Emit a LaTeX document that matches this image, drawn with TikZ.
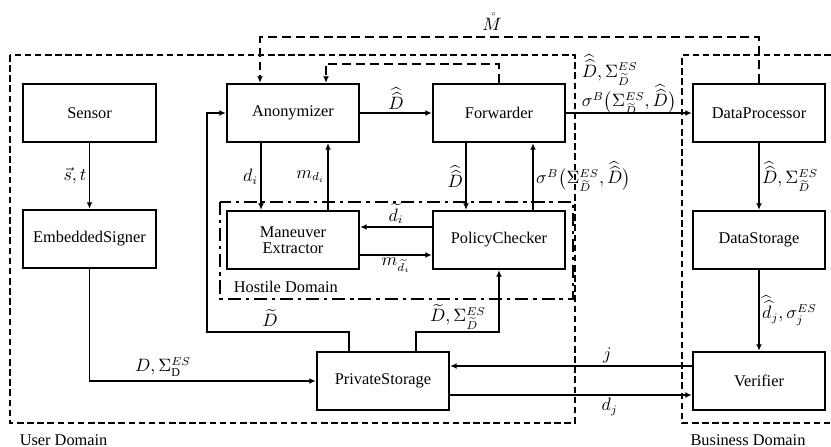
\documentclass[tikz,border=0pt]{standalone}
\usepackage{amsmath}
\usepackage{fontspec}
\setmainfont{Liberation Serif}
\usetikzlibrary{arrows.meta, positioning, calc}

\newcommand{\hhD}{\widehat{\widehat{D}}}
\newcommand{\SigD}{\Sigma^{ES}_{\widetilde{D}}}

\begin{document}
\begin{tikzpicture}[
    x=0.0215cm, y=-0.0215cm,
    block/.style={draw, line width=1.1pt, minimum width=2.85cm,
                  minimum height=1.26cm, align=center, font=\normalsize},
    lbl/.style={font=\fontsize{10.5}{12}\selectfont, inner sep=1.5pt},
    flow/.style={->, line width=0.9pt},
    userdom/.style={line width=1pt, dash pattern=on 4pt off 2.2pt},
    mline/.style={line width=1pt, dash pattern=on 5.5pt off 3pt},
    hostdom/.style={line width=1pt, dash pattern=on 8pt off 3pt on 2pt off 3pt},
    >={Latex[length=4pt,width=3.6pt]}
  ]
  \useasboundingbox (0,0) rectangle (831,447);

  % domains
  \draw[userdom] (10,55) rectangle (575,423);
  \draw[userdom] (831,55) -| (682,423) -- (831,423);
  \draw[hostdom] (220,202) rectangle (573,299);
  \node[anchor=west] (userlbl) at (14,440) {User Domain};
  \node (buslbl) at (748,440) {Business Domain};
  \node[anchor=west] (hostlbl) at (228,287) {Hostile Domain};

  % blocks
  \node[block] (sensor) at (89.5,113) {Sensor};
  \node[block] (anon)   at (293,113)  {Anonymizer};
  \node[block] (fwd)    at (499,113)  {Forwarder};
  \node[block] (dproc)  at (759,113)  {DataProcessor};
  \node[block] (signer) at (89.5,239) {EmbeddedSigner};
  \node[block] (maneu)  at (293,240)  {Maneuver\\[-2pt]Extractor};
  \node[block] (policy) at (499,240)  {PolicyChecker};
  \node[block] (dstore) at (759,240)  {DataStorage};
  \node[block] (priv)   at (383,381)  {PrivateStorage};
  \node[block] (verif)  at (759,381)  {Verifier};

  % dashed feedback
  \draw[mline, ->] (dproc.north) |- ($(anon.north)+(-33,-46)$)
    -- ($(anon.north)+(-33,0)$);
  \node[lbl] (mlbl) at (492,22) {$\mathring{M}$};
  \draw[mline, ->] (fwd.north) |- ($(anon.north)+(33,-19)$)
    -- ($(anon.north)+(33,0)$);

  % data flow
  \draw[flow] (sensor) -- (signer) node[lbl, midway, left] (st) {$\vec{s},t$};
  \draw[flow] (anon) -- (fwd) node[lbl, midway, above] (ad) {$\hhD$};
  \draw[flow] (fwd) -- (dproc);
  \node[lbl, anchor=base] (fsig) at (629,107)
    {$\sigma^{B}\bigl(\SigD,\hhD\bigr)$};
  \node[lbl, anchor=west] (fsum) at (579,70) {$\hhD,\SigD$};

  \draw[flow] ($(anon.south)+(-32,0)$) -- ($(maneu.north)+(-32,0)$)
    node[lbl, midway, left] (di) {$d_i$};
  \draw[flow] ($(maneu.north)+(35,0)$) -- ($(anon.south)+(35,0)$)
    node[lbl, midway, left] (mdi) {$m_{d_i}$};
  \draw[flow] ($(fwd.south)+(-33,0)$) -- ($(policy.north)+(-33,0)$)
    node[lbl, midway, left] (fd) {$\hhD$};
  \draw[flow] ($(policy.north)+(34,0)$) -- ($(fwd.south)+(34,0)$)
    node[lbl, midway, right] (psig) {$\sigma^{B}\bigl(\SigD,\hhD\bigr)$};
  \draw[flow] ($(policy.west)+(0,-13)$) -- ($(maneu.east)+(0,-13)$)
    node[lbl, midway, above] (tdi) {$\widetilde{d}_i$};
  \draw[flow] ($(maneu.east)+(0,15)$) -- ($(policy.west)+(0,15)$)
    node[lbl, midway, below] (mtdi) {$m_{\widetilde{d_i}}$};

  \draw[flow] ($(priv.north)+(-34,0)$) |- (207,332) |- (anon.west);
  \node[lbl] (pd) at (270,318) {$\widetilde{D}$};
  \draw[flow] ($(priv.north)+(33,0)$) |- ($(policy.south)+(0,62)$)
    -- (policy.south);
  \node[lbl] (psum) at (458,317) {$\widetilde{D},\SigD$};

  \draw[flow] (signer.south) |- (priv.west);
  \node[lbl] (dsig) at (163,367) {$D,\Sigma^{ES}_{\mathrm{D}}$};

  \draw[flow] (dproc) -- (dstore)
    node[lbl, midway, right] (dpsum) {$\hhD,\SigD$};
  \draw[flow] (dstore) -- (verif)
    node[lbl, midway, right] (dsj) {$\widehat{\widehat{d}}_j,\sigma^{ES}_j$};

  \draw[flow] ($(verif.west)+(0,-15)$) -- ($(priv.east)+(0,-15)$)
    node[lbl, pos=0.35, above] (jlbl) {$j$};
  \draw[flow] ($(priv.east)+(0,14)$) -- ($(verif.west)+(0,14)$)
    node[lbl, pos=0.66, below] (djlbl) {$d_j$};
\end{tikzpicture}
\end{document}
